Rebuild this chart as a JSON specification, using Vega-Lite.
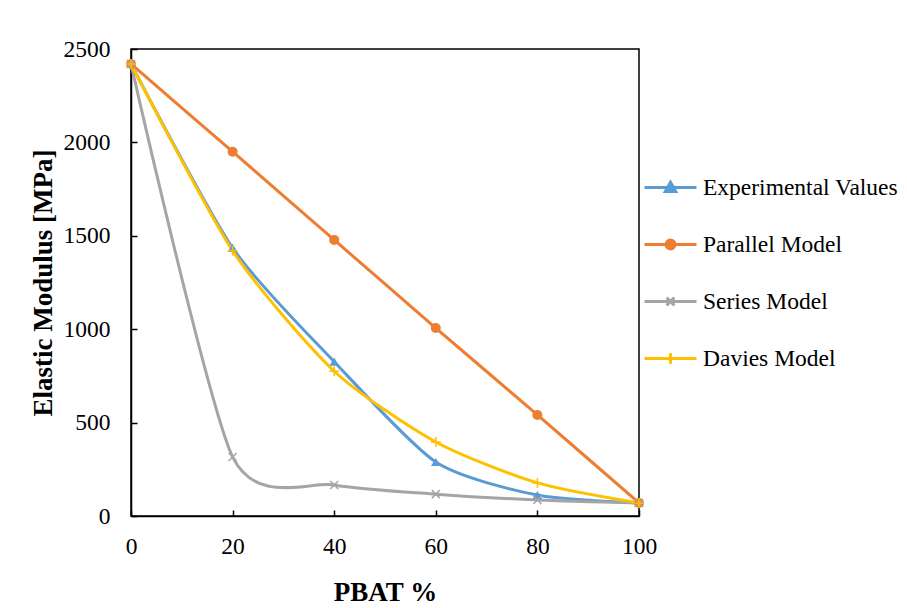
{
  "$schema": "https://vega.github.io/schema/vega-lite/v6.json",
  "width": 508,
  "height": 467,
  "autosize": {"type": "none"},
  "padding": {"left": 131, "top": 49, "right": 268, "bottom": 92},
  "background": "white",
  "config": {
    "view": {"stroke": "black", "strokeWidth": 1.5},
    "font": "Liberation Serif"
  },
  "data": {
    "values": [
      {"pbat": 0, "modulus": 2420, "series": "Experimental Values"},
      {"pbat": 20, "modulus": 1435, "series": "Experimental Values"},
      {"pbat": 40, "modulus": 826, "series": "Experimental Values"},
      {"pbat": 60, "modulus": 289, "series": "Experimental Values"},
      {"pbat": 80, "modulus": 112, "series": "Experimental Values"},
      {"pbat": 100, "modulus": 70, "series": "Experimental Values"},
      {"pbat": 0, "modulus": 2420, "series": "Parallel Model"},
      {"pbat": 20, "modulus": 1950, "series": "Parallel Model"},
      {"pbat": 40, "modulus": 1478, "series": "Parallel Model"},
      {"pbat": 60, "modulus": 1006, "series": "Parallel Model"},
      {"pbat": 80, "modulus": 541, "series": "Parallel Model"},
      {"pbat": 100, "modulus": 70, "series": "Parallel Model"},
      {"pbat": 0, "modulus": 2420, "series": "Series Model"},
      {"pbat": 20, "modulus": 316, "series": "Series Model"},
      {"pbat": 40, "modulus": 166, "series": "Series Model"},
      {"pbat": 60, "modulus": 117, "series": "Series Model"},
      {"pbat": 80, "modulus": 86, "series": "Series Model"},
      {"pbat": 100, "modulus": 70, "series": "Series Model"},
      {"pbat": 0, "modulus": 2420, "series": "Davies Model"},
      {"pbat": 20, "modulus": 1420, "series": "Davies Model"},
      {"pbat": 40, "modulus": 775, "series": "Davies Model"},
      {"pbat": 60, "modulus": 396, "series": "Davies Model"},
      {"pbat": 80, "modulus": 177, "series": "Davies Model"},
      {"pbat": 100, "modulus": 70, "series": "Davies Model"}
    ]
  },
  "encoding": {
    "x": {
      "field": "pbat",
      "type": "quantitative",
      "scale": {"domain": [0, 100], "nice": false},
      "axis": {
        "values": [0, 20, 40, 60, 80, 100], "format": "d", "title": "PBAT %", "labelFlush": false,
        "grid": false, "domainColor": "black", "domainWidth": 1.5, "tickColor": "black", "tickWidth": 1.5, "tickSize": -6,
        "labelFont": "Times New Roman, Liberation Serif, serif", "labelFontSize": 23.5, "labelFontWeight": "normal", "labelColor": "black", "labelPadding": 24,
        "titleFont": "Liberation Serif", "titleFontSize": 27, "titleFontWeight": "bold", "titleColor": "black", "titlePadding": 22
      }
    },
    "y": {
      "field": "modulus",
      "type": "quantitative",
      "scale": {"domain": [0, 2500], "nice": false},
      "axis": {
        "values": [0, 500, 1000, 1500, 2000, 2500], "format": "d", "title": "Elastic Modulus [MPa]", "labelFlush": false,
        "grid": false, "domainColor": "black", "domainWidth": 1.5, "tickColor": "black", "tickWidth": 1.5, "tickSize": -6,
        "labelFont": "Times New Roman, Liberation Serif, serif", "labelFontSize": 23.5, "labelFontWeight": "normal", "labelColor": "black", "labelPadding": 27,
        "titleFont": "Liberation Serif", "titleFontSize": 27, "titleFontWeight": "bold", "titleColor": "black", "titlePadding": 6
      }
    },
    "color": {
      "field": "series",
      "type": "nominal",
      "scale": {
        "domain": ["Experimental Values", "Parallel Model", "Series Model", "Davies Model"],
        "range": ["#5B9BD5", "#ED7D31", "#A5A5A5", "#FFC000"]
      },
      "legend": {
        "orient": "none",
        "legendX": 512,
        "legendY": 111,
        "title": null,
        "padding": 0,
        "symbolSize": 2704,
        "symbolStrokeWidth": 3,
        "rowPadding": 18,
        "labelOffset": 5,
        "labelFont": "Times New Roman, Liberation Serif, serif",
        "labelFontSize": 23.5,
        "labelFontWeight": "normal",
        "labelColor": "black",
        "labelLimit": 300
      }
    },
    "order": {"field": "pbat"}
  },
  "layer": [
    {
      "mark": {"type": "line", "interpolate": "cardinal", "tension": 0.3, "strokeWidth": 3, "clip": false}
    },
    {
      "transform": [{"filter": "datum.pbat < 0"}],
      "mark": {"type": "point", "filled": true, "opacity": 1, "strokeWidth": 3},
      "encoding": {
        "shape": {
          "field": "series",
          "type": "nominal",
          "scale": {
            "domain": ["Experimental Values", "Parallel Model", "Series Model", "Davies Model"],
            "range": [
              "M-1,0H1M0,-0.2L0.2,0.15L-0.2,0.15Z",
              "M-1,0H1M0.17,0A0.17,0.17,0,1,1,-0.17,0A0.17,0.17,0,1,1,0.17,0Z",
              "M-1,0H1M-0.15,-0.15L0.15,0.15M-0.15,0.15L0.15,-0.15",
              "M-1,0H1M0,-0.2V0.2"
            ]
          },
          "legend": null
        },
        "stroke": {"field": "series", "type": "nominal", "scale": {"domain": ["Experimental Values", "Parallel Model", "Series Model", "Davies Model"], "range": ["#5B9BD5", "#ED7D31", "#A5A5A5", "#FFC000"]}, "legend": null}
      }
    },
    {
      "transform": [{"filter": "datum.series == 'Experimental Values'"}],
      "mark": {"type": "point", "filled": true, "opacity": 1, "shape": "triangle-up", "size": 90}
    },
    {
      "transform": [{"filter": "datum.series == 'Parallel Model'"}],
      "mark": {"type": "point", "filled": true, "opacity": 1, "shape": "circle", "size": 100}
    },
    {
      "transform": [{"filter": "datum.series == 'Series Model'"}],
      "mark": {"type": "point", "filled": false, "opacity": 1, "strokeWidth": 1.5, "shape": "M-1,-1L1,1M-1,1L1,-1", "size": 64}
    },
    {
      "transform": [{"filter": "datum.series == 'Davies Model'"}],
      "mark": {"type": "point", "filled": false, "opacity": 1, "strokeWidth": 1.5, "shape": "M-1,0H1M0,-1V1", "size": 100}
    }
  ]
}
